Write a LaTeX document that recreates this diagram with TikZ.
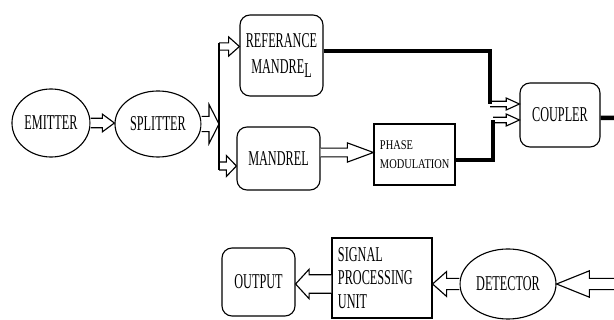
\documentclass[tikz,border=0pt]{standalone}
\usepackage{fontspec}
\setmainfont{Liberation Serif}
\newfontfamily\labelfont[FakeStretch=0.58]{Liberation Serif}
\newfontfamily\smalllabelfont[FakeStretch=0.78]{Liberation Serif}
\usepackage{tikz}
\usetikzlibrary{calc,positioning,shapes.geometric}

% hollow block arrow: from, to, shaft half width, head half width, head length
\newcommand{\hollowarrow}[5]{%
  \path (#1) coordinate (ha-s) (#2) coordinate (ha-e);
  \coordinate (ha-h) at ($(ha-e)!#5!(ha-s)$);
  \draw[hollow] ($(ha-s)!#3!90:(ha-e)$) -- ($(ha-h)!#3!90:(ha-e)$)
    -- ($(ha-h)!#4!90:(ha-e)$) -- (ha-e) -- ($(ha-h)!#4!-90:(ha-e)$)
    -- ($(ha-h)!#3!-90:(ha-e)$) -- ($(ha-s)!#3!-90:(ha-e)$);
}

\begin{document}
\begin{tikzpicture}[
  x=0.025cm, y=-0.025cm,
  box/.style={draw, line width=0.8pt, inner sep=0pt, font=\labelfont\fontsize{15}{18.5}\selectfont},
  roundbox/.style={box, rounded corners=0.25cm},
  ellbox/.style={box, ellipse},
  plainbox/.style={box, align=left, inner xsep=0.15cm},
  hollow/.style={draw, fill=white, line width=0.8pt, line join=miter},
  thickline/.style={line width=3.2pt},
  thinline/.style={line width=0.8pt}
]
\useasboundingbox (0,0) rectangle (614,320);

% Upper chain
\node[ellbox, minimum width=1.95cm, minimum height=1.7cm] (emitter) at (51,123) {EMITTER};
\node[ellbox, minimum width=2.15cm, minimum height=1.65cm] (splitter) at (158,124) {SPLITTER};
\node[roundbox, minimum width=2.075cm, minimum height=2.025cm, align=center] (refmandrel) at (281.5,55.5) {REFERANCE\\MANDRE\raisebox{-0.45ex}{L}};
\node[roundbox, minimum width=2.075cm, minimum height=1.575cm] (mandrel) at (278.5,158.5) {MANDREL};
\node[plainbox, minimum width=2.025cm, minimum height=1.525cm, text width=1.725cm,
  font=\smalllabelfont\fontsize{9.5}{13.5}\selectfont] (phasemod) at (414.5,154.5) {PHASE\\MODULATION};
\node[roundbox, minimum width=2cm, minimum height=1.6cm] (coupler) at (560,115) {COUPLER};

% Lower chain
\node[roundbox, minimum width=1.825cm, minimum height=1.7cm] (output) at (258.5,282) {OUTPUT};
\node[plainbox, minimum width=2.5cm, minimum height=2cm, text width=2.2cm,
  font=\labelfont\fontsize{15}{16.5}\selectfont] (spu) at (382,278) {SIGNAL\\PROCESSING\\UNIT};
\node[ellbox, minimum width=2.4cm, minimum height=1.75cm] (detector) at (508,284) {DETECTOR};

% Connector points
\coordinate (brktop) at (219,43);
\coordinate (brkbot) at (219,170);
\coordinate (refin) at (219,46.5);
\coordinate (mandin) at (219,166);
\coordinate (cin1) at (490,104);
\coordinate (cin2) at (493,120);
\coordinate (cout) at (614,118);
\coordinate (detin) at (614,284);

% Block arrows
\hollowarrow{emitter.east}{splitter.west |- emitter.east}{0.12cm}{0.22cm}{0.3cm}
\hollowarrow{splitter.east}{splitter.east -| brktop}{0.19cm}{0.49cm}{0.25cm}
\hollowarrow{refin}{refin -| refmandrel.west}{0.09cm}{0.24cm}{0.27cm}
\hollowarrow{mandin}{mandin -| mandrel.west}{0.1cm}{0.26cm}{0.25cm}
\hollowarrow{[yshift=0.15cm]mandrel.east}{[yshift=0.15cm]mandrel.east -| phasemod.west}{0.11cm}{0.24cm}{0.65cm}
\hollowarrow{cin1}{cin1 -| coupler.west}{0.07cm}{0.15cm}{0.33cm}
\hollowarrow{cin2}{cin2 -| coupler.west}{0.07cm}{0.15cm}{0.33cm}
\hollowarrow{detin}{detector.east}{0.14cm}{0.33cm}{0.82cm}
\hollowarrow{detector.west}{detector.west -| spu.east}{0.14cm}{0.31cm}{0.35cm}
\hollowarrow{spu.west |- detector.west}{output.east |- detector.west}{0.23cm}{0.37cm}{0.34cm}

% Lines
\draw[thinline] (brktop) -- (brkbot);
\draw[thickline] ([yshift=0.11cm]refmandrel.east) -| (cin1);
\draw[thickline] ([yshift=-0.14cm]phasemod.east) -| (cin2);
\draw[thickline] ([yshift=-0.075cm]coupler.east) -- (cout);

\end{tikzpicture}
\end{document}
